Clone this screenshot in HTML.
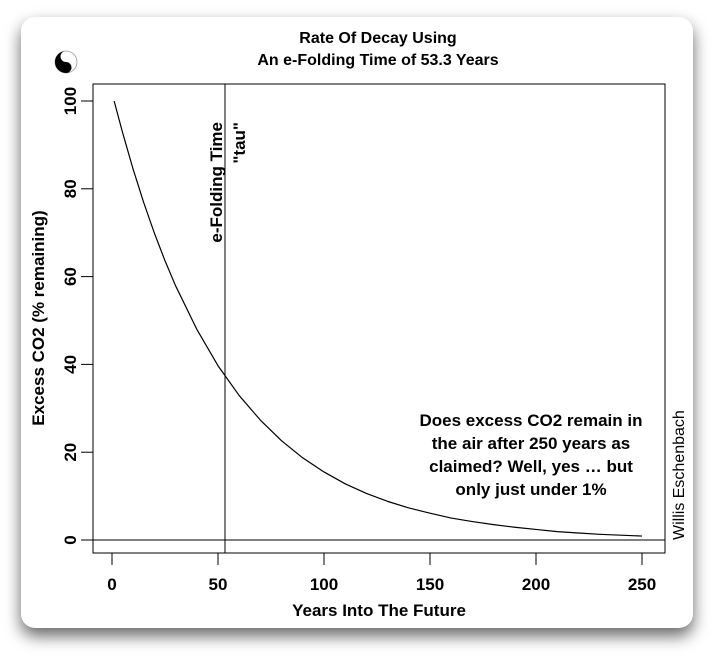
<!DOCTYPE html>
<html><head><meta charset="utf-8"><style>
body{margin:0;width:720px;height:659px;background:#fff;overflow:hidden;font-family:"Liberation Sans",sans-serif}
#card{position:absolute;left:21px;top:17px;width:672px;height:611px;background:#fff;border-radius:14px;box-shadow:0 8px 16px rgba(0,0,0,0.6)}
svg{position:absolute;left:0;top:0}
</style></head><body>
<div id="card"></div>
<svg id="chart" width="720" height="659" font-family="Liberation Sans, sans-serif">
<g>
<circle cx="66" cy="62" r="11" fill="#fff" stroke="#999" stroke-width="0.8"/>
<path d="M66 51 A11 11 0 0 0 66 73 A5.5 5.5 0 0 0 66 62 A5.5 5.5 0 0 1 66 51Z" fill="#000"/>
<circle cx="66" cy="56.5" r="1.6" fill="#fff"/><circle cx="66" cy="67.5" r="1.6" fill="#000"/>
</g>
<text x="378" y="43" text-anchor="middle" font-size="16" font-weight="bold">Rate Of Decay Using</text>
<text x="378" y="65" text-anchor="middle" font-size="16" font-weight="bold">An e-Folding Time of 53.3 Years</text>
<rect x="93" y="84" width="572" height="469" fill="none" stroke="#000" stroke-width="1"/>
<g id="axes"></g>
<g id="marks"></g>
<text transform="translate(44,318) rotate(-90)" text-anchor="middle" font-size="17" font-weight="bold">Excess CO2 (% remaining)</text>
<text x="379" y="616" text-anchor="middle" font-size="17" font-weight="bold">Years Into The Future</text>
<text transform="translate(222,122) rotate(-90)" text-anchor="end" font-size="17" font-weight="bold">e-Folding Time</text>
<text transform="translate(245,122) rotate(-90)" text-anchor="end" font-size="17" font-weight="bold">"tau"</text>
<g font-size="17" font-weight="bold" text-anchor="middle">
<text x="531" y="426">Does excess CO2 remain in</text>
<text x="531" y="449">the air after 250 years as</text>
<text x="531" y="472">claimed? Well, yes … but</text>
<text x="531" y="495">only just under 1%</text>
</g>
<text transform="translate(684,540) rotate(-90)" font-size="16">Willis Eschenbach</text>
</svg>
<script>
const years=[1,5,10,15,20,25,30,40,50,60,70,80,90,100,110,120,130,140,150,160,170,180,190,200,210,220,230,240,250];
const remaining=[100,92.8,84.4,76.8,69.9,63.6,57.9,48.0,39.7,32.9,27.3,22.6,18.7,15.5,12.8,10.6,8.8,7.3,6.1,5.0,4.2,3.5,2.9,2.4,1.9,1.6,1.3,1.1,0.9];
const xTicks=[0,50,100,150,200,250];
const yTicks=[0,20,40,60,80,100];
const tau=53.3;
const NS="http://www.w3.org/2000/svg";
const X=v=>112+v*2.12, Y=v=>540-v*4.39;
const axes=document.getElementById('axes'), marks=document.getElementById('marks');
function mk(tag,attrs,parent){const e=document.createElementNS(NS,tag);for(const k in attrs)e.setAttribute(k,attrs[k]);parent.appendChild(e);return e;}
xTicks.forEach(t=>{
 const l=mk('line',{x1:X(t),x2:X(t),y1:553,y2:565,stroke:'#000'},axes);
 
 
 const s=mk('text',{x:X(t),y:590,'text-anchor':'middle','font-size':17,'font-weight':'bold'},axes);
 s.textContent=t;
 
 
});
yTicks.forEach(t=>{
 const l=mk('line',{x1:81,x2:93,y1:Y(t),y2:Y(t),stroke:'#000'},axes);
 
 
 const s=mk('text',{transform:`translate(76,${Y(t)}) rotate(-90)`,'text-anchor':'middle','font-size':17,'font-weight':'bold'},axes);
 s.textContent=t;
 
 
});
const z=mk('line',{x1:93,x2:665,y1:Y(0),y2:Y(0),stroke:'#000'},marks);


const v=mk('line',{x1:X(tau),x2:X(tau),y1:84,y2:553,stroke:'#000'},marks);


const p=mk('polyline',{points:years.map((y,i)=>X(y)+','+Y(remaining[i])).join(' '),fill:'none',stroke:'#000','stroke-width':1.2,'stroke-linejoin':'round'},marks);


</script>
</body></html>
